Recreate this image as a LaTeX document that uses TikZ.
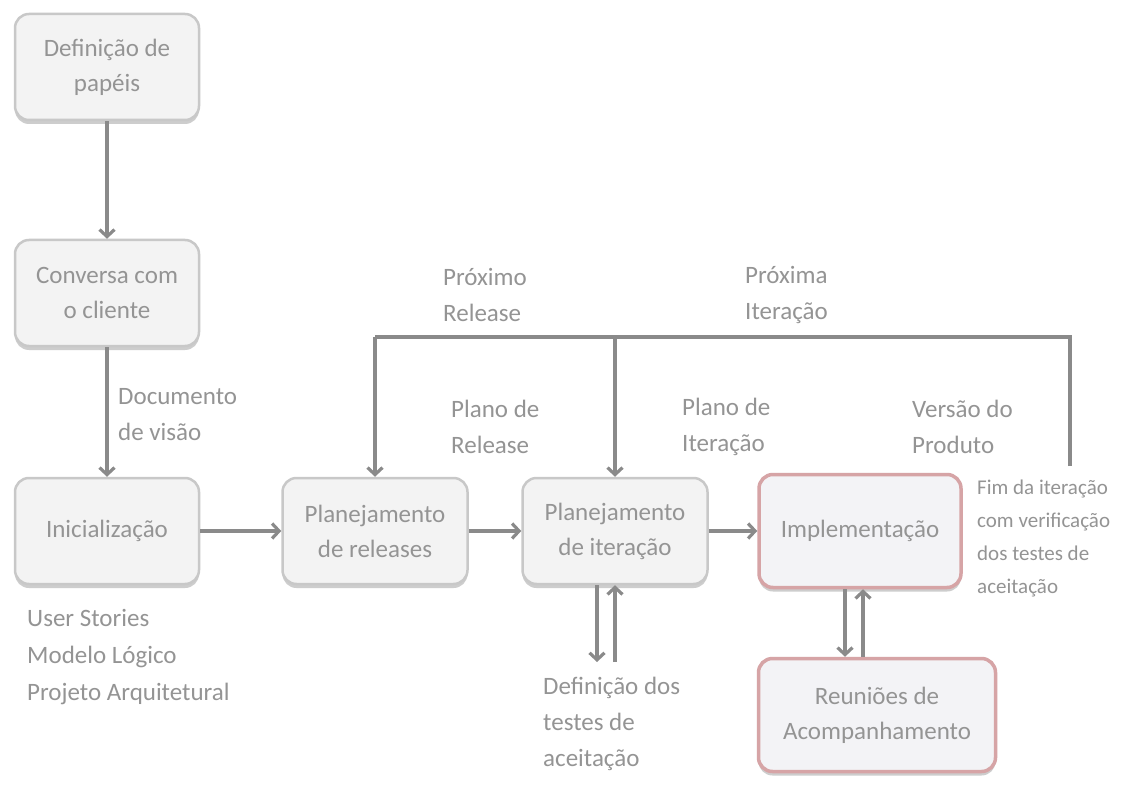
\documentclass[tikz,border=0pt]{standalone}
\usepackage{fontspec}
\setmainfont{Carlito}
\usetikzlibrary{arrows.meta,shadows}
\definecolor{txt}{RGB}{148,148,148}
\definecolor{ln}{RGB}{138,138,138}
\definecolor{bord}{RGB}{200,200,200}
\definecolor{boxfill}{RGB}{243,243,243}
\definecolor{redbord}{RGB}{214,164,166}
\definecolor{redfill}{RGB}{243,243,246}
\tikzset{
  box/.style={draw=bord, line width=2.5pt, fill=boxfill, rounded corners=14pt,
    minimum width=184pt, minimum height=106pt, align=center, text=txt,
    font=\fontsize{25}{35}\selectfont, inner sep=0pt,
    drop shadow={shadow xshift=0pt, shadow yshift=-4pt, fill=black!28, opacity=0.7}},
  redbox/.style={box, draw=redbord, line width=3.5pt, fill=redfill},
  conn/.style={draw=ln, line width=3.2pt, -{Straight Barb[length=7pt,width=15pt]}},
  plain/.style={draw=ln, line width=3.2pt},
  lbl/.style={anchor=west, align=left, text=txt, inner sep=0pt,
    font=\fontsize{25}{36}\selectfont},
  smalllbl/.style={lbl, font=\fontsize{21}{33}\selectfont}
}
\begin{document}
\begin{tikzpicture}[x=1pt,y=-1pt]
\useasboundingbox[fill=white] (0,0) rectangle (1126,794);
% boxes
\node[box] (d1) at (107,67) {Definição de\\papéis};
\node[box] (d2) at (107,293) {Conversa com\\o cliente};
\node[box] (d3) at (107,531) {Inicialização};
\node[box, minimum width=185pt] (d4) at (375,531) {Planejamento\\de releases};
\node[box, minimum width=185pt] (d5) at (615,531) {Planejamento\\de iteração};
\node[redbox, minimum width=202pt, minimum height=113pt] (impl) at (860,531) {Implementação};
\node[redbox, minimum width=237pt, minimum height=113pt] (reun) at (877,715) {Reuniões de\\Acompanhamento};
% coordinates
\coordinate (fb) at (1070,466);
\coordinate (fbtop) at (1070,337);
\coordinate (jr) at (375,337);
\coordinate (ji) at (615,337);
\coordinate (tdn) at (597,662);
\coordinate (tup) at (615,662);
% connectors
\draw[conn] (d1.south) -- (d2.north);
\draw[conn] (d2.south) -- (d3.north);
\draw[conn] (d3.east) -- (d4.west);
\draw[conn] (d4.east) -- (d5.west);
\draw[conn] (d5.east) -- (impl.west);
\draw[conn] (d5.south -| tdn) -- (tdn);
\draw[conn] (tup) -- (d5.south -| tup);
\draw[conn] (impl.south -| 845,0) -- (reun.north -| 845,0);
\draw[conn] (reun.north -| 863,0) -- (impl.south -| 863,0);
\draw[plain] (fb) -- (fbtop) -- (jr);
\draw[conn] (jr) -- (d4.north);
\draw[conn] (ji) -- (d5.north);
% labels
\node[lbl] (l1) at (118,415) {Documento\\de visão};
\node[lbl] (l2) at (443,295) {Próximo\\Release};
\node[lbl] (l3) at (745,295) {Próxima\\Iteração};
\node[lbl] (l4) at (451,427) {Plano de\\Release};
\node[lbl] (l5) at (682,427) {Plano de\\Iteração};
\node[lbl] (l6) at (912,427) {Versão do\\Produto};
\node[smalllbl] (l7) at (977,538) {Fim da iteração\\com verificação\\dos testes de\\aceitação};
\node[lbl, font=\fontsize{25}{37}\selectfont] (l8) at (27,657) {User Stories\\Modelo Lógico\\Projeto Arquitetural};
\node[lbl] (l9) at (543,724) {Definição dos\\testes de\\aceitação};
\end{tikzpicture}
\end{document}
